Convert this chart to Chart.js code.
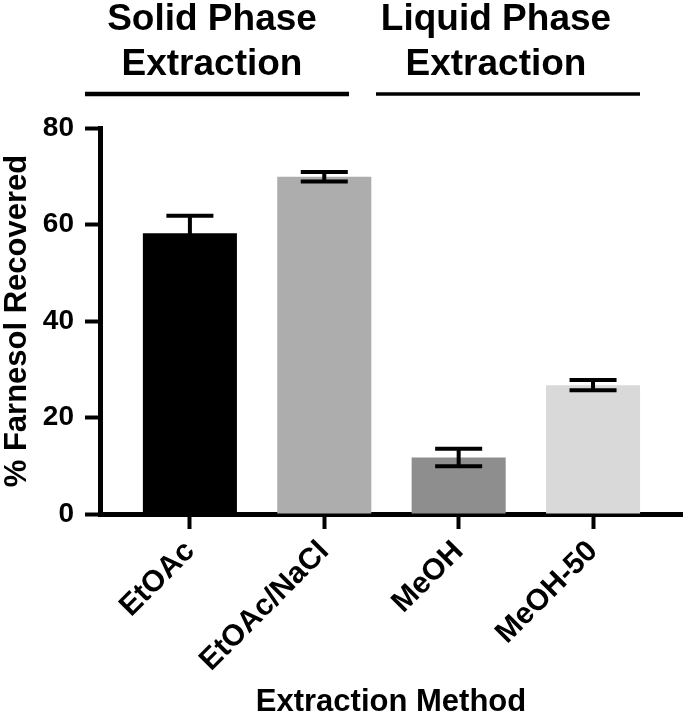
<!DOCTYPE html>
<html>
<head>
<meta charset="utf-8">
<script src="https://cdn.jsdelivr.net/npm/chart.js@4.4.1/dist/chart.umd.min.js"></script>
<style>
  html, body { margin: 0; padding: 0; background: #fff; }
  #wrap { width: 685px; height: 715px; }
</style>
</head>
<body>
<div id="wrap"><canvas id="chart" width="685" height="715"></canvas></div>
<script>
// data
const categories = ['EtOAc', 'EtOAc/NaCl', 'MeOH', 'MeOH-50'];
const recovered = [58.2, 69.9, 11.7, 26.7];
const recoveredErr = [3.6, 1.0, 1.8, 1.05];
const yTicks = [0, 20, 40, 60, 80];
const phaseHeadings = [['Solid Phase', 'Extraction'], ['Liquid Phase', 'Extraction']];

const barColors = ['#000000', '#adadad', '#8e8e8e', '#d9d9d9'];
const FONT = '"Liberation Sans", Arial, Helvetica, sans-serif';

// error bars (mean +/- SD) drawn from the scales
const errorBars = {
  id: 'errorBars',
  afterDatasetsDraw(chart) {
    const ctx = chart.ctx;
    const y = chart.scales.y;
    const meta = chart.getDatasetMeta(0);
    ctx.save();
    ctx.strokeStyle = '#000';
    ctx.lineWidth = 4;
    meta.data.forEach((bar, i) => {
      const cx = bar.x;
      const half = bar.width / 4;
      const top = y.getPixelForValue(recovered[i] + recoveredErr[i]);
      const bot = y.getPixelForValue(recovered[i] - recoveredErr[i]);
      ctx.beginPath();
      ctx.moveTo(cx, top); ctx.lineTo(cx, bot);
      ctx.moveTo(cx - half, top); ctx.lineTo(cx + half, top);
      ctx.moveTo(cx - half, bot); ctx.lineTo(cx + half, bot);
      ctx.stroke();
    });
    ctx.restore();
  }
};

// group headings above the plot
const headings = {
  id: 'headings',
  afterDraw(chart) {
    const ctx = chart.ctx;
    const spots = [
      { cx: 212, x1: 85, x2: 349, lw: 4.5 },
      { cx: 496, x1: 376, x2: 640, lw: 3.5 }
    ];
    ctx.save();
    ctx.fillStyle = '#000';
    ctx.strokeStyle = '#000';
    ctx.font = 'bold 37px ' + FONT;
    ctx.textAlign = 'center';
    ctx.textBaseline = 'alphabetic';
    phaseHeadings.forEach((lines, i) => {
      const s = spots[i];
      ctx.fillText(lines[0], s.cx, 30);
      ctx.fillText(lines[1], s.cx, 75);
      ctx.lineWidth = s.lw;
      ctx.beginPath();
      ctx.moveTo(s.x1, 94);
      ctx.lineTo(s.x2, 94);
      ctx.stroke();
    });
    ctx.restore();
  }
};

new Chart(document.getElementById('chart'), {
  type: 'bar',
  data: {
    datasets: [{
      data: categories.map((c, i) => ({ x: i, y: recovered[i] })),
      backgroundColor: barColors,
      borderWidth: 0,
      barPercentage: 0.7,
      categoryPercentage: 1.0
    }]
  },
  options: {
    responsive: false,
    animation: false,
    layout: { padding: { top: 128, right: 3, left: 0, bottom: 0 } },
    plugins: {
      legend: { display: false },
      tooltip: { enabled: false }
    },
    scales: {
      x: {
        type: 'linear',
        offset: false,
        min: -0.669,
        max: 3.662,
        afterBuildTicks: s => { s.ticks = categories.map((c, i) => ({ value: i })); },
        afterFit: s => { s.height = 201; },
        ticks: {
          autoSkip: false,
          minRotation: 45,
          maxRotation: 45,
          padding: 5,
          color: '#000',
          font: { family: FONT, size: 30, weight: 'bold' },
          callback: v => categories[v]
        },
        grid: { offset: false, drawOnChartArea: false, tickLength: 15, tickWidth: 4, tickColor: '#000' },
        border: { width: 5, color: '#000' },
        title: {
          display: true,
          text: 'Extraction Method',
          color: '#000',
          padding: 0,
          font: { family: FONT, size: 31, weight: 'bold', lineHeight: 0.8 }
        }
      },
      y: {
        min: 0,
        max: 80,
        afterBuildTicks: s => { s.ticks = yTicks.map(v => ({ value: v })); },
        afterFit: s => { s.width = 100; },
        ticks: {
          padding: 11,
          color: '#000',
          font: { family: FONT, size: 28, weight: 'bold' }
        },
        grid: { drawOnChartArea: false, tickLength: 15, tickWidth: 4, tickColor: '#000' },
        border: { width: 5, color: '#000' },
        title: {
          display: true,
          text: '% Farnesol Recovered',
          color: '#000',
          padding: 0,
          font: { family: FONT, size: 31, weight: 'bold', lineHeight: 1.1 }
        }
      }
    }
  },
  plugins: [errorBars, headings]
});
</script>
</body>
</html>
